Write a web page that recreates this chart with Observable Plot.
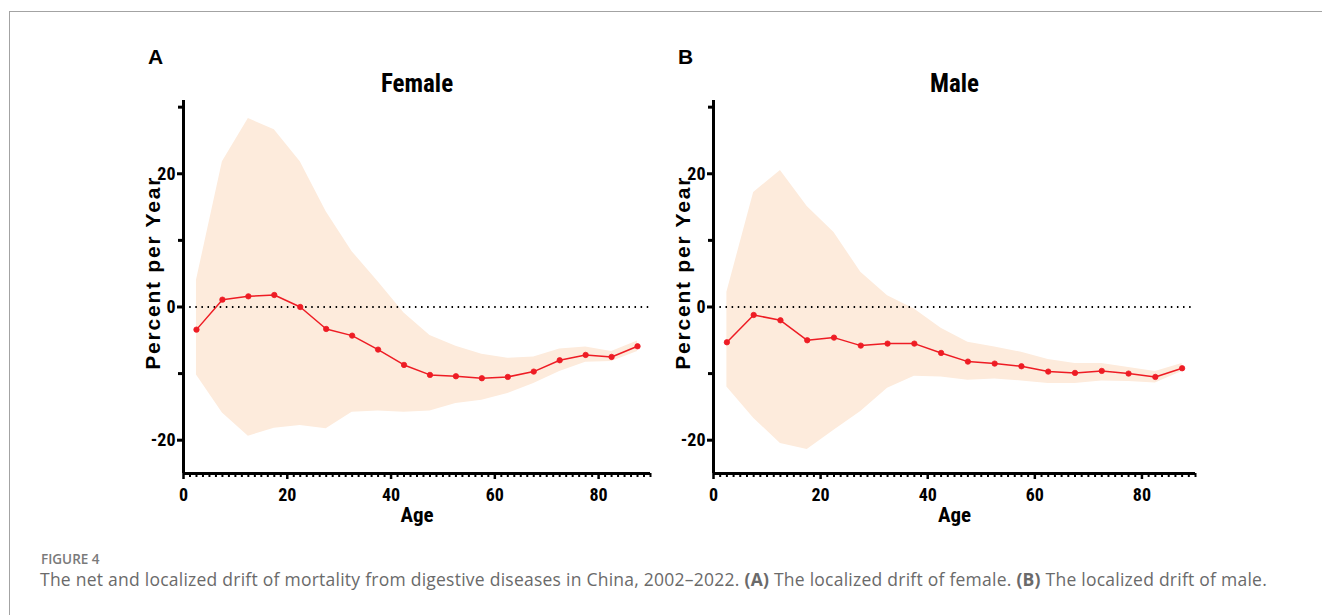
<!DOCTYPE html>
<html><head><meta charset="utf-8">
<script src="https://cdn.jsdelivr.net/npm/d3@7"></script>
<script src="https://cdn.jsdelivr.net/npm/@observablehq/plot@0.6"></script>
<style>
body{margin:0;background:#fff;width:1322px;height:615px;overflow:hidden;position:relative;font-family:"Open Sans",sans-serif}
#frameTop{position:absolute;left:9px;top:11px;width:1313px;height:0;border-top:1.5px solid #a3a3a3}
#frameLeft{position:absolute;left:9px;top:11px;width:0;height:610px;border-left:1.5px solid #a3a3a3}
.panel{position:absolute;top:40px}
.plabel{position:absolute;top:46px;font:bold 21px "Liberation Sans",Arial,sans-serif;color:#000;line-height:1}
#fig{position:absolute;left:41px;top:553px;font:600 13.5px "Open Sans",sans-serif;color:#7a7a7a;line-height:1}
#cap{position:absolute;left:40px;top:571px;font:17.5px "Open Sans",sans-serif;color:#6a6a6a;white-space:nowrap;line-height:1}
#cap b{font-weight:700}
</style></head>
<body>
<div id="frameTop"></div><div id="frameLeft"></div>
<div class="plabel" style="left:148px">A</div>
<div class="plabel" style="left:678px">B</div>
<div class="panel" id="pA" style="left:130px"></div>
<div class="panel" id="pB" style="left:660px"></div>
<div id="fig">FIGURE 4</div>
<div id="cap">The net and localized drift of mortality from digestive diseases in China, 2002–2022. <b>(A)</b> The localized drift of female. <b>(B)</b> The localized drift of male.</div>
<script>
// Age group midpoints
const ages = [2.5, 7.5, 12.5, 17.5, 22.5, 27.5, 32.5, 37.5, 42.5, 47.5, 52.5, 57.5, 62.5, 67.5, 72.5, 77.5, 82.5, 87.5];
// Female localized drift (% per year) and 95% CI
const femaleDrift = [-3.4, 1.1, 1.6, 1.8, 0.0, -3.3, -4.3, -6.4, -8.7, -10.2, -10.4, -10.7, -10.5, -9.7, -8.0, -7.2, -7.5, -5.9];
const femaleLower = [-10.2, -15.9, -19.4, -18.2, -17.8, -18.3, -15.8, -15.6, -15.8, -15.6, -14.5, -14.0, -13.0, -11.5, -9.7, -8.3, -8.2, -6.7];
const femaleUpper = [4.0, 21.8, 28.3, 26.6, 21.8, 14.3, 8.3, 3.8, -0.9, -4.3, -5.9, -7.1, -7.7, -7.5, -6.3, -6.0, -6.7, -5.1];
// Male localized drift (% per year) and 95% CI
const maleDrift = [-5.3, -1.2, -2.0, -5.0, -4.6, -5.8, -5.5, -5.5, -6.9, -8.2, -8.5, -8.9, -9.7, -9.9, -9.6, -10.0, -10.5, -9.2];
const maleLower = [-12.0, -16.7, -20.5, -21.4, -18.5, -15.7, -12.2, -10.4, -10.5, -11.0, -10.8, -11.1, -11.5, -11.5, -11.1, -11.2, -11.4, -9.7];
const maleUpper = [2.2, 17.2, 20.5, 15.1, 11.2, 5.2, 1.7, -0.3, -3.2, -5.3, -6.0, -6.8, -7.9, -8.5, -8.5, -9.1, -9.7, -8.5];
// Axis ticks
const yMajor = [-20, 0, 20];
const yMinor = [-10, 10, 30];
const xMajor = [0, 20, 40, 60, 80];
const xMinor = d3.range(0, 90.01, 1.25).filter(v => v % 20 !== 0);

const narrow = '"Roboto Condensed","Liberation Sans",sans-serif';
const red = "#ee1c24";
const band = "#fdebdc";

function panel(title, width, drift, lower, upper) {
  const rows = ages.map((a, i) => ({age: a, drift: drift[i], lo: lower[i], hi: upper[i]}));
  return Plot.plot({
    width, height: 500,
    marginLeft: 53, marginRight: 20, marginTop: 60, marginBottom: 67,
    x: {domain: [0, 90]},
    y: {domain: [-25, 31]},
    style: {background: "transparent", fontFamily: narrow, color: "#000", overflow: "visible"},
    marks: [
      Plot.areaY(rows, {x: "age", y1: "lo", y2: "hi", fill: band, curve: "linear"}),
      Plot.ruleY([0], {x1: 1.2, x2: 90, stroke: "#000", strokeWidth: 2, strokeDasharray: "1.5,4.6"}),
      Plot.line(rows, {x: "age", y: "drift", stroke: red, strokeWidth: 1.5}),
      Plot.dot(rows, {x: "age", y: "drift", r: 2.7, fill: red, stroke: red, strokeWidth: 0.8}),
      Plot.ruleX([0], {y1: -25, y2: 31, stroke: "#000", strokeWidth: 3}),
      Plot.ruleY([-25], {x1: 0, x2: 90, stroke: "#000", strokeWidth: 3}),
      Plot.axisY(yMajor, {anchor: "left", tickSize: 6, tickPadding: 2, strokeWidth: 3, fontSize: 18, fontWeight: "bold", fontFamily: narrow, tickFormat: d => String(d), label: null}),
      Plot.axisY(yMinor, {anchor: "left", tickSize: 5, strokeWidth: 3, text: null, label: null}),
      Plot.axisX(xMajor, {anchor: "bottom", tickSize: 6, tickPadding: 9, strokeWidth: 2.5, fontSize: 18, fontWeight: "bold", fontFamily: narrow, tickFormat: d => String(d), label: null}),
      Plot.axisX(xMinor, {anchor: "bottom", tickSize: 4, strokeWidth: 2, text: null, label: null}),
      Plot.text([title], {x: 45, y: 31, dy: -17, text: d => d, fontSize: 25, fontWeight: "bold", fontFamily: narrow}),
      Plot.text(["Age"], {x: 45, y: -25, dy: 42, text: d => d, fontSize: 21, fontWeight: "bold", fontFamily: narrow}),
      Plot.text(["Percent per Year"], {x: 0, y: 5, dx: -30, rotate: -90, text: d => d, fontSize: 21, fontWeight: "bold", fontFamily: '"Liberation Sans",Arial,sans-serif', className: "ylab"})
    ]
  });
}

document.getElementById("pA").append(panel("Female", 540, femaleDrift, femaleLower, femaleUpper));
document.getElementById("pB").append(panel("Male", 555, maleDrift, maleLower, maleUpper));
d3.selectAll(".ylab text").attr("textLength", 192).attr("lengthAdjust", "spacing");
// stretch the caption to the width of the printed line
const cap = document.getElementById("cap");
const natural = cap.getBoundingClientRect().width;
const n = cap.textContent.length;
cap.style.letterSpacing = ((1227 - natural) / n) + "px";
</script>
</body></html>
